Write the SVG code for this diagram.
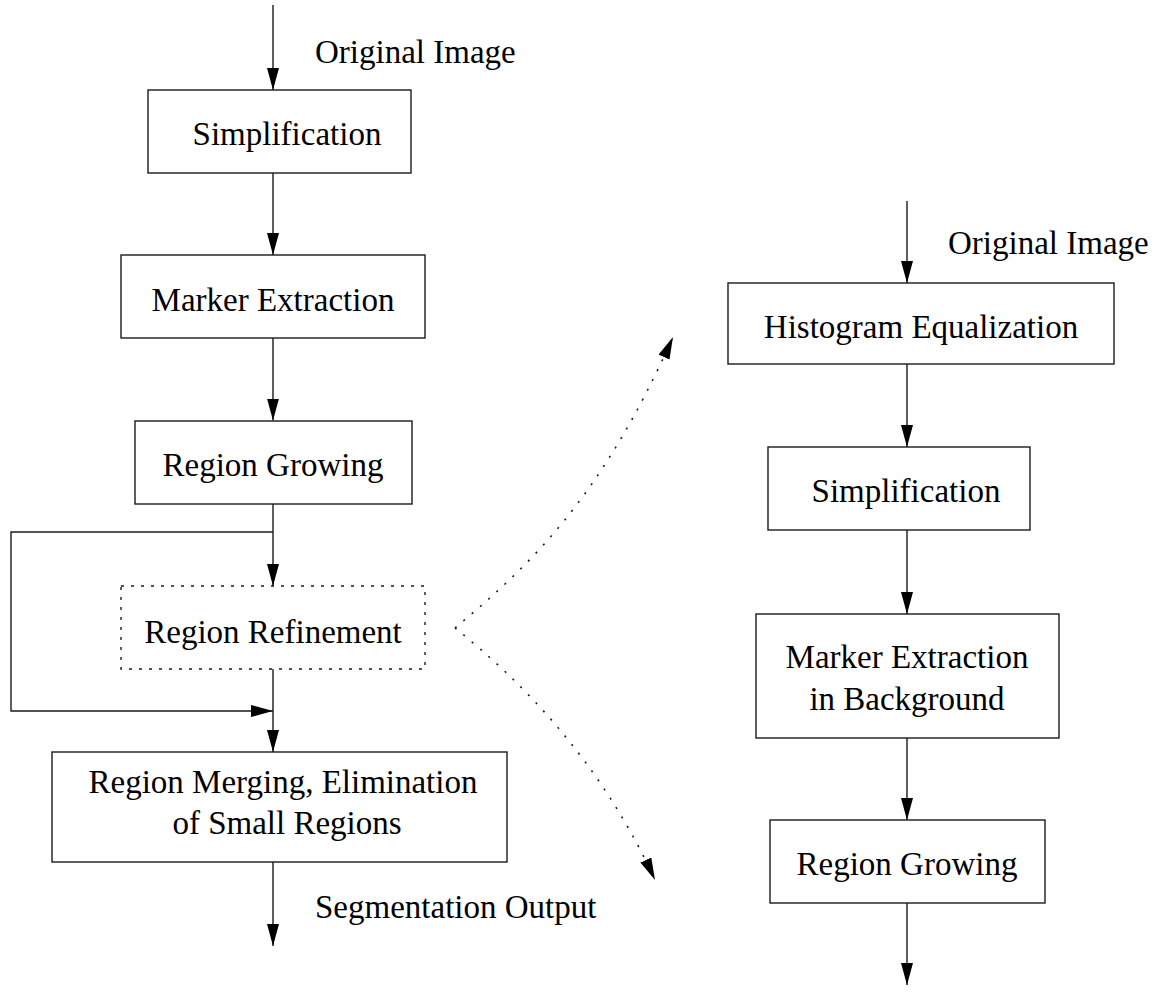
<svg xmlns="http://www.w3.org/2000/svg" width="1162" height="1000" viewBox="0 0 1162 1000">
  <style>
    .box { fill: #fff; stroke: #1a1a1a; stroke-width: 1.4; }
    .dotbox { fill: #fff; stroke: #1a1a1a; stroke-width: 1.4; stroke-dasharray: 3 7; }
    .lbl { font-family: "Liberation Serif", "Times New Roman", serif; font-size: 33px; fill: #000; }
    .mid { text-anchor: middle; }
    .wire { fill: none; stroke: #1a1a1a; stroke-width: 1.4; marker-end: url(#head); }
    .plain { fill: none; stroke: #1a1a1a; stroke-width: 1.4; }
    .dots { fill: none; stroke: #1a1a1a; stroke-width: 1.6; stroke-dasharray: 2 9; marker-end: url(#head); }
  </style>
  <defs>
    <marker id="head" markerUnits="userSpaceOnUse" markerWidth="23" markerHeight="13" refX="22" refY="6" orient="auto">
      <path d="M0,0 L22,6 L0,12 z" fill="#000"/>
    </marker>
  </defs>
  <rect width="1162" height="1000" fill="#fff"/>

  <!-- connectors -->
  <g id="connectors">
    <path class="wire" d="M273,5 V90"/>
    <path class="wire" d="M273,173 V255"/>
    <path class="wire" d="M273,338 V420.5"/>
    <path class="wire" d="M273,504 V586"/>
    <path class="wire" d="M273,532 H11 V711 H273"/>
    <path class="wire" d="M273,669 V752"/>
    <path class="wire" d="M273,862 V946"/>
    <path class="wire" d="M907,201 V283"/>
    <path class="wire" d="M907,364 V447"/>
    <path class="wire" d="M907,530 V614"/>
    <path class="wire" d="M907,738 V820"/>
    <path class="wire" d="M907,903 V985"/>
    <path class="dots" d="M455,628 C530,565 600,500 673,337"/>
    <path class="dots" d="M455,628 C520,680 600,760 655,880"/>
  </g>

  <!-- flow labels -->
  <text class="lbl" x="315" y="63">Original Image</text>
  <text class="lbl" x="315" y="918">Segmentation Output</text>
  <text class="lbl" x="948" y="254">Original Image</text>

  <!-- main segmentation chain -->
  <g id="simplification">
    <rect class="box" x="148" y="90" width="263" height="83"/>
    <text class="lbl mid" x="287" y="145">Simplification</text>
  </g>
  <g id="marker-extraction">
    <rect class="box" x="121" y="255" width="304" height="83"/>
    <text class="lbl mid" x="273" y="311">Marker Extraction</text>
  </g>
  <g id="region-growing">
    <rect class="box" x="135" y="421" width="277" height="83"/>
    <text class="lbl mid" x="273" y="476">Region Growing</text>
  </g>
  <g id="region-refinement">
    <rect class="dotbox" x="121" y="586" width="304" height="83"/>
    <text class="lbl mid" x="273" y="643">Region Refinement</text>
  </g>
  <g id="region-merging">
    <rect class="box" x="52" y="752" width="455" height="110"/>
    <text class="lbl mid" x="283" y="793">Region Merging, Elimination</text>
    <text class="lbl mid" x="287" y="834">of Small Regions</text>
  </g>

  <!-- refinement detail chain -->
  <g id="histogram-equalization">
    <rect class="box" x="728" y="283" width="386" height="81"/>
    <text class="lbl mid" x="921" y="338">Histogram Equalization</text>
  </g>
  <g id="refine-simplification">
    <rect class="box" x="768" y="447" width="262" height="83"/>
    <text class="lbl mid" x="906" y="502">Simplification</text>
  </g>
  <g id="background-markers">
    <rect class="box" x="756" y="614" width="303" height="124"/>
    <text class="lbl mid" x="907" y="668">Marker Extraction</text>
    <text class="lbl mid" x="907" y="710">in Background</text>
  </g>
  <g id="refine-region-growing">
    <rect class="box" x="770" y="820" width="275" height="83"/>
    <text class="lbl mid" x="907" y="875">Region Growing</text>
  </g>
</svg>
